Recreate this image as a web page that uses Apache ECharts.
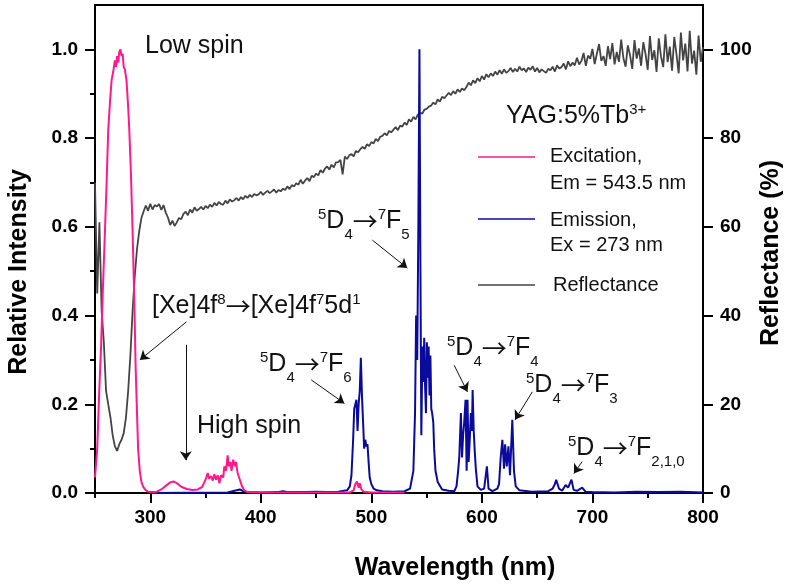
<!DOCTYPE html>
<html>
<head>
<meta charset="utf-8">
<script src="https://cdn.jsdelivr.net/npm/echarts@6/dist/echarts.min.js"></script>
<style>html,body{margin:0;padding:0;background:#fff;}#c{width:788px;height:587px;}</style>
</head>
<body>
<div id="c"></div>
<script>
// ---------- data ----------
const xTicks = [300, 400, 500, 600, 700, 800];
const xMinorTicks = [250, 350, 450, 550, 650, 750];
const yLeftTicks = [0, 0.2, 0.4, 0.6, 0.8, 1.0];
const yLeftMinorTicks = [0.1, 0.3, 0.5, 0.7, 0.9];
const yRightTicks = [0, 20, 40, 60, 80, 100];

// Excitation (Em = 543.5 nm): wavelength (nm) and relative intensity
const excWl = [250,252,254,255.5,257,259,260.5,262,263.5,265,266.5,268,269,270,271,272,273,274,275,276,277,278.5,280,281,282.5,284,285.5,286.7,288,289,290.5,292,293.6,296,298,302,306,310,314,318,321,324,328,333,338,343,347,350,352,353,355,356.5,358,359.5,361,362.5,364,366,367,368.5,370,371,372.5,373.5,375,376.5,377.5,379,381,383,385,388,400,440,480,484,485.5,487,488.5,489.5,491,493,500,530];
const excVal = [0.035,0.10,0.24,0.33,0.45,0.59,0.70,0.82,0.88,0.93,0.95,0.975,0.96,0.985,0.97,0.995,1.0,0.985,0.99,0.96,0.955,0.93,0.87,0.82,0.72,0.59,0.44,0.29,0.18,0.10,0.05,0.025,0.014,0.006,0.003,0.002,0.003,0.008,0.016,0.024,0.026,0.022,0.014,0.009,0.007,0.008,0.014,0.03,0.045,0.032,0.038,0.028,0.042,0.03,0.04,0.022,0.04,0.035,0.06,0.05,0.085,0.06,0.07,0.05,0.075,0.06,0.07,0.045,0.03,0.015,0.006,0.002,0.001,0.001,0.001,0.006,0.02,0.026,0.012,0.022,0.008,0.003,0.001,0.001];

// Emission (Ex = 273 nm)
const emWl = [300,370,378,381,384,388,400,415,420,425,440,450,460,470,478,480.5,482,483.5,484.5,485.5,486.5,487.5,488.5,489.5,490.5,491.5,492.5,493.5,494.5,495.5,496.5,497.5,498.5,500,502,505,510,520,530,535,538,539.5,540.5,541.5,542.5,543.5,544.3,545.2,546.2,547,547.8,548.6,549.4,550.2,551,551.8,552.6,553.4,554.2,555,556,556.8,558,560,564,570,575,577,578.5,579.5,581,582,583,584,585.2,586.2,587,588,589,590,591,591.6,592.6,593.6,594.5,596,599,602,604.5,606,609.5,614,615.5,617,618.5,620,621,622.5,624,625.4,627.5,629,630.6,634,645,660,664,666,667.2,669.7,672.6,675.7,678,681,683,686,690.7,693.7,700,720,740,760,780,800];
const emVal = [0,0.001,0.006,0.008,0.004,0.002,0.001,0.002,0.004,0.002,0.002,0.003,0.002,0.003,0.006,0.015,0.04,0.12,0.19,0.20,0.21,0.14,0.20,0.23,0.305,0.22,0.16,0.10,0.12,0.105,0.11,0.07,0.035,0.02,0.01,0.006,0.004,0.003,0.004,0.01,0.05,0.18,0.40,0.30,0.60,1.0,0.55,0.13,0.33,0.25,0.35,0.24,0.18,0.34,0.26,0.33,0.22,0.31,0.19,0.18,0.16,0.10,0.05,0.025,0.008,0.005,0.004,0.015,0.05,0.08,0.18,0.08,0.13,0.16,0.21,0.05,0.21,0.07,0.12,0.18,0.14,0.232,0.14,0.09,0.055,0.015,0.007,0.01,0.06,0.01,0.004,0.01,0.02,0.08,0.12,0.055,0.11,0.06,0.105,0.04,0.165,0.05,0.015,0.006,0.003,0.004,0.01,0.02,0.03,0.01,0.005,0.018,0.012,0.03,0.007,0.005,0.012,0.003,0.002,0.001,0.003,0.002,0.003,0.001];

// Reflectance (%), sampled every 2 nm from 250 nm to 800 nm
const refStart = 250, refStep = 2;
const refVal = [
 70, 45, 61, 41, 34, 23, 20, 17, 13, 10.5,
 9.5, 11, 12, 13.5, 17, 23, 31, 41, 49, 55,
 59, 62, 63.5, 64.8, 63.6, 65.2, 63.9, 64.9, 64.6, 65.1,
 63.8, 64.9, 63.2, 62.1, 60.4, 61.4, 60.2, 61.0, 62.0, 61.7,
 62.9, 63.4, 62.6, 63.9, 63.2, 64.4, 63.6, 64.0, 64.5, 63.9,
 64.7, 64.2, 65.0, 64.5, 65.4, 64.8, 65.6, 65.1, 65.0, 65.9,
 65.3, 66.2, 65.7, 66.0, 66.5, 65.9, 66.7, 66.2, 67.0, 66.5,
 67.2, 66.7, 67.4, 67.1, 67.3, 67.9, 67.2, 67.7, 68.1, 67.6,
 68.0, 68.4, 67.7, 68.3, 68.0, 68.6, 68.3, 69.1, 68.5, 69.4,
 69.1, 69.8, 69.5, 70.6, 69.7, 70.4, 71.0, 70.3, 71.5, 71.2,
 72.0, 71.6, 72.8, 72.2, 73.1, 73.6, 72.9, 74.0, 73.4, 74.5,
 74.6, 75.1, 71.8, 75.8, 75.3, 76.1, 76.4, 75.9, 77.1, 76.8,
 77.5, 78.0, 77.6, 78.6, 78.2, 79.1, 78.8, 79.8, 79.3, 80.3,
 80.5, 81.1, 80.6, 81.6, 81.3, 81.9, 82.5, 81.8, 82.8, 82.6,
 83.5, 83.0, 84.2, 83.7, 84.8, 84.2, 85.3, 85.7, 85.5, 86.4,
 86.6, 87.1, 87.3, 88.0, 87.6, 88.7, 88.2, 89.3, 89.0, 89.6,
 90.2, 89.7, 90.6, 90.0, 91.0, 90.4, 91.2, 90.8, 91.5, 92.5,
 91.9, 93.0, 92.4, 93.5, 92.8, 94.0, 93.2, 94.4, 93.7, 94.6,
 94.0, 95.0, 94.3, 95.3, 94.5, 95.5, 94.7, 95.1, 95.8, 94.9,
 95.6, 95.0, 96.1, 95.3, 95.7, 94.9, 95.9, 95.4, 96.2, 95.0,
 95.8, 94.8, 95.5, 95.1, 94.7, 95.6, 95.3, 96.1, 95.0, 96.4,
 95.7, 96.0, 96.8, 95.5, 97.3, 96.2, 97.0, 96.4, 98.1, 96.6,
 97.4, 99.2, 96.3, 98.6, 97.9, 100.1, 96.7, 99.0, 101.2, 97.4,
 98.5, 96.3, 100.7, 97.8, 101.4, 96.6, 99.4, 97.2, 102.2, 98.0,
 96.1, 100.9, 98.7, 95.6, 102.1, 97.9, 100.2, 96.3, 101.6, 99.0,
 95.4, 103.0, 97.6, 99.8, 94.9, 102.5, 98.4, 96.0, 103.4, 97.1,
 100.6, 95.2, 102.8, 98.9, 94.6, 103.8, 97.5, 101.3, 95.0, 104.2,
 96.8, 99.7, 94.3, 103.1, 97.2, 100.5
];

// ---------- build ----------
const FF = "'Liberation Sans', Arial, sans-serif";
const pair = (xs, ys) => xs.map((x, i) => [x, ys[i]]);
const refData = refVal.map((v, i) => [refStart + i * refStep, v]);

const AX = {color: '#000', width: 2};
const LBL = {fontSize: 19, fontWeight: 'bold', color: '#000', fontFamily: FF};

const RICH = {
  b:   {fontSize: 25, lineHeight: 40, fontFamily: FF, fill: '#111'},
  ar:  {fontSize: 25, lineHeight: 40, fontFamily: "'Noto Sans CJK SC', 'DejaVu Sans', sans-serif", fill: '#111'},
  sup: {fontSize: 15, lineHeight: 40, padding: [0, 0, 13, 0], fontFamily: FF, fill: '#111'},
  sub: {fontSize: 15, lineHeight: 40, padding: [27, 0, 0, 0], fontFamily: FF, fill: '#111'}
};
function ann(x, baseline, text) {
  return {type: 'text', x: x, y: baseline - 28.75, silent: true,
    style: {text: text, rich: RICH, align: 'left', verticalAlign: 'top', fontFamily: FF, fontSize: 25, fill: '#111'}};
}
function plain(x, baseline, text, size) {
  return {type: 'text', x: x, y: baseline - 0.35 * size, silent: true,
    style: {text: text, align: 'left', verticalAlign: 'middle', fontFamily: FF, fontSize: size, fill: '#111'}};
}
function legLine(y, color) {
  return {type: 'line', silent: true, shape: {x1: 478, y1: y, x2: 535, y2: y}, style: {stroke: color, lineWidth: 1.5}};
}
function title(x, y, text, rot) {
  return {type: 'text', x: x, y: y, rotation: rot, silent: true,
    style: {text: text, align: 'center', verticalAlign: 'middle', fontFamily: FF, fontSize: 25, fontWeight: 'bold', fill: '#000'}};
}

const TR = (a) => '{sup|5}{b|D}{sub|4}{ar|→}{sup|7}{b|F}{sub|' + a + '}';

const arrows = [
  [[332.8, 0.386], [290.6, 0.300]],
  [[332.1, 0.334], [332.1, 0.074]],
  [[445.6, 0.255], [475.6, 0.202]],
  [[500.9, 0.570], [532.5, 0.507]],
  [[574.9, 0.288], [586.9, 0.228]],
  [[645.6, 0.228], [630.0, 0.165]],
  [[690.7, 0.071], [683.2, 0.044]]
];

const chart = echarts.init(document.getElementById('c'), null, {renderer: 'canvas'});
chart.setOption({
  animation: false,
  backgroundColor: '#fff',
  textStyle: {fontFamily: FF},
  grid: {left: 95, right: 85, top: 5, bottom: 94, show: true, borderColor: '#000', borderWidth: 2, containLabel: false},
  xAxis: [
    {type: 'value', min: 250, max: 800, position: 'bottom',
      axisLine: {show: true, lineStyle: AX},
      axisTick: {show: true, customValues: xTicks, length: 10, lineStyle: {color: '#000', width: 2}},
      axisLabel: {customValues: xTicks, margin: 15, ...LBL},
      splitLine: {show: false}},
    {type: 'value', min: 250, max: 800, position: 'bottom',
      axisLine: {show: false},
      axisTick: {show: true, customValues: xMinorTicks, length: 5, lineStyle: {color: '#000', width: 2}},
      axisLabel: {show: false}, splitLine: {show: false}}
  ],
  yAxis: [
    {type: 'value', min: 0, max: 1.1, position: 'left',
      axisLine: {show: true, lineStyle: AX},
      axisTick: {show: true, customValues: yLeftTicks, length: 10, lineStyle: {color: '#000', width: 2}},
      axisLabel: {customValues: yLeftTicks, margin: 17, formatter: v => Number(v).toFixed(1), ...LBL},
      splitLine: {show: false}},
    {type: 'value', min: 0, max: 110, position: 'right',
      axisLine: {show: true, lineStyle: AX},
      axisTick: {show: true, customValues: yRightTicks, length: 10, lineStyle: {color: '#000', width: 2}},
      axisLabel: {customValues: yRightTicks, margin: 17, ...LBL},
      splitLine: {show: false}},
    {type: 'value', min: 0, max: 1.1, position: 'left',
      axisLine: {show: false},
      axisTick: {show: true, customValues: yLeftMinorTicks, length: 5, lineStyle: {color: '#000', width: 2}},
      axisLabel: {show: false}, splitLine: {show: false}}
  ],
  series: [
    {name: 'Reflectance', type: 'line', xAxisIndex: 0, yAxisIndex: 1, data: refData, showSymbol: false,
      lineStyle: {color: '#444', width: 1.8}, z: 2},
    {name: 'Emission', type: 'line', xAxisIndex: 0, yAxisIndex: 0, data: pair(emWl, emVal), showSymbol: false,
      lineStyle: {color: '#0a0a9c', width: 2}, z: 3},
    {name: 'Excitation', type: 'line', xAxisIndex: 0, yAxisIndex: 0, data: pair(excWl, excVal), showSymbol: false,
      lineStyle: {color: '#ff1a8c', width: 2}, z: 4,
      markLine: {silent: true, symbol: ['none', 'arrow'], symbolSize: 9, animation: false,
        label: {show: false}, lineStyle: {color: '#111', width: 1, type: 'solid'},
        emphasis: {disabled: true},
        data: arrows.map(a => [{coord: a[0]}, {coord: a[1]}])}}
  ],
  graphic: [
    title(19, 272, 'Relative Intensity', Math.PI / 2),
    title(771, 253, 'Reflectance (%)', Math.PI / 2),
    title(455, 568, 'Wavelength (nm)', 0),
    ann(145, 55, '{b|Low spin}'),
    ann(152, 315, '{b|[Xe]4f}{sup|8}{ar|→}{b|[Xe]4f}{sup|7}{b|5d}{sup|1}'),
    ann(197, 435, '{b|High spin}'),
    ann(260, 373, TR('6')),
    ann(318, 230, TR('5')),
    ann(447, 357, TR('4')),
    ann(526, 394, TR('3')),
    ann(568, 457, TR('2,1,0')),
    ann(506, 125, '{b|YAG:5%Tb}{sup|3+}'),
    legLine(157, '#ff1a8c'),
    legLine(219, '#0a0a9c'),
    legLine(285, '#444'),
    plain(550, 163, 'Excitation,', 20),
    plain(550, 190, 'Em = 543.5 nm', 20),
    plain(550, 227, 'Emission,', 20),
    plain(550, 252, 'Ex = 273 nm', 20),
    plain(553, 292, 'Reflectance', 20)
  ]
});
</script>
</body>
</html>
